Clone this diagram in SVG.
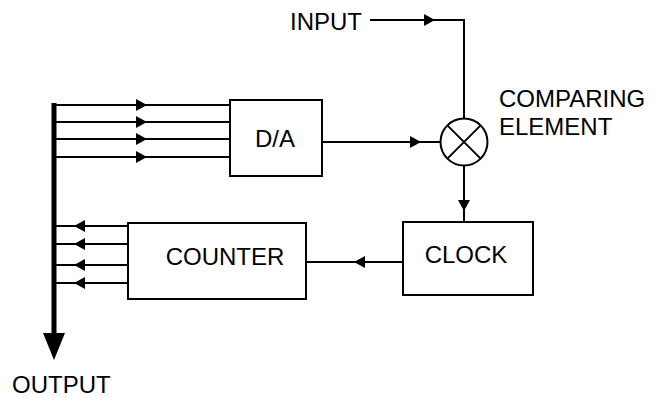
<svg xmlns="http://www.w3.org/2000/svg" width="656" height="398" viewBox="0 0 656 398">
<style>
.ln{fill:none;stroke:#000;stroke-width:2}
.box{fill:#fff;stroke:#000;stroke-width:2}
.ah{fill:#000}
.t{font-family:"Liberation Sans",Arial,sans-serif;font-size:24px;fill:#000}
</style>
<defs>
<path id="ar" d="M-11 -6 L0 0 L-11 6 Z"/>
</defs>
<rect width="656" height="398" fill="#fff"/>
<g id="connectors">
<path class="ln" d="M56 105 H230 M56 122 H230 M56 139 H230 M56 157 H230"/>
<use href="#ar" class="ah" x="147" y="105"/>
<use href="#ar" class="ah" x="147" y="122"/>
<use href="#ar" class="ah" x="147" y="139"/>
<use href="#ar" class="ah" x="147" y="157"/>
<path class="ln" d="M56 226 H128 M56 244 H128 M56 265 H128 M56 283 H128"/>
<use href="#ar" class="ah" transform="translate(74 226) rotate(180)"/>
<use href="#ar" class="ah" transform="translate(74 244) rotate(180)"/>
<use href="#ar" class="ah" transform="translate(74 265) rotate(180)"/>
<use href="#ar" class="ah" transform="translate(74 283) rotate(180)"/>
<path class="ln" d="M370 20 H464 V118"/>
<use href="#ar" class="ah" x="435" y="20"/>
<path class="ln" d="M322 142 H440"/>
<use href="#ar" class="ah" x="421" y="142"/>
<path class="ln" d="M464 166 V222"/>
<use href="#ar" class="ah" transform="translate(464 211) rotate(90)"/>
<path class="ln" d="M306 262 H403"/>
<use href="#ar" class="ah" transform="translate(354 262) rotate(180)"/>
<path d="M54 103 V336" fill="none" stroke="#000" stroke-width="5"/>
<path d="M43 333 L65 333 L54 360 Z" fill="#000"/>
</g>
<g id="da">
<rect class="box" x="230" y="100" width="92" height="76"/>
<text class="t" x="275" y="147" text-anchor="middle">D/A</text>
</g>
<g id="counter">
<rect class="box" x="128" y="223" width="178" height="76"/>
<text class="t" x="225" y="265" text-anchor="middle">COUNTER</text>
</g>
<g id="clock">
<rect class="box" x="403" y="222" width="130" height="73"/>
<text class="t" x="466" y="263" text-anchor="middle">CLOCK</text>
</g>
<g id="comparing">
<circle class="box" cx="464" cy="142" r="23.5"/>
<path class="ln" d="M447.4 125.4 L480.6 158.6 M480.6 125.4 L447.4 158.6"/>
<text class="t" x="499" y="107">COMPARING</text>
<text class="t" x="499" y="135">ELEMENT</text>
</g>
<g id="input">
<text class="t" x="290" y="30">INPUT</text>
</g>
<g id="output">
<text class="t" x="12" y="393">OUTPUT</text>
</g>
</svg>
